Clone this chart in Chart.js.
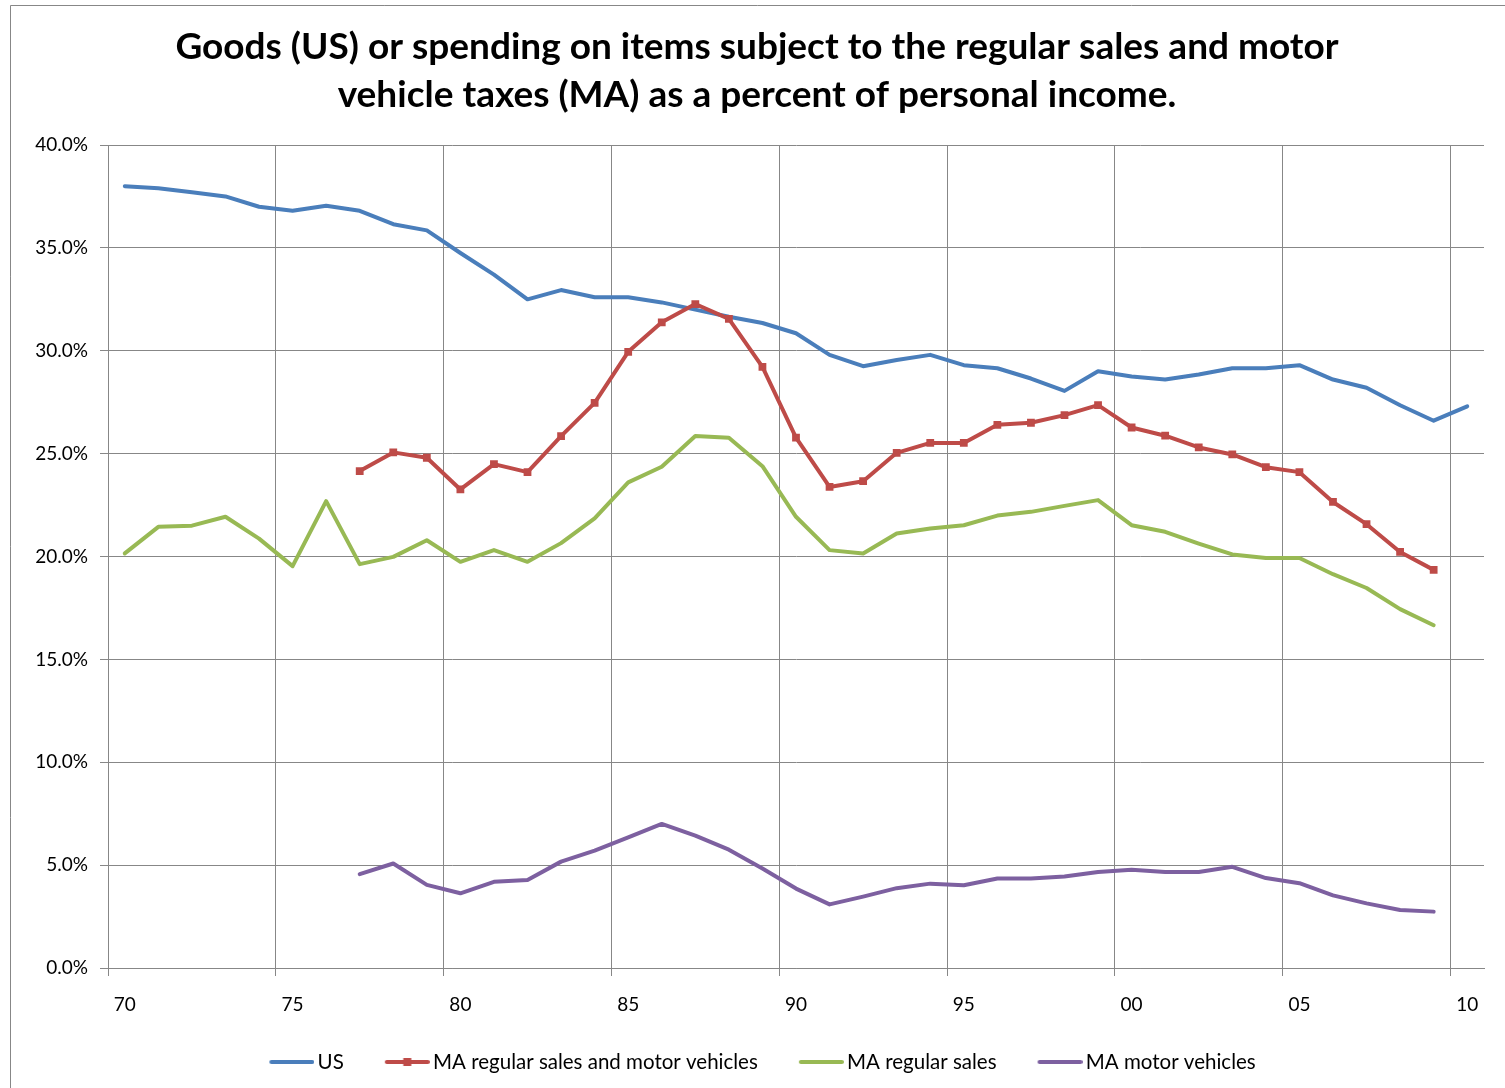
<!DOCTYPE html>
<html>
<head>
  <title>Goods and taxable spending as a percent of personal income</title>
  <script src="https://cdn.jsdelivr.net/npm/chart.js"></script>
  <style>
    html, body { margin: 0; padding: 0; background: #fff; }
    #wrap { width: 1505px; height: 1088px; position: relative; }
  </style>
</head>
<body>
  <div id="wrap"><canvas id="chart"></canvas></div>
  <script>
    // years 1970..2010, shown as two-digit labels
    const years = ['70','71','72','73','74','75','76','77','78','79',
                   '80','81','82','83','84','85','86','87','88','89',
                   '90','91','92','93','94','95','96','97','98','99',
                   '00','01','02','03','04','05','06','07','08','09','10'];

    const usGoods = [38.0, 37.9, 37.7, 37.5, 37.0, 36.8, 37.05, 36.8, 36.15, 35.85,
                     34.75, 33.7, 32.5, 32.95, 32.6, 32.6, 32.35, 32.0, 31.65, 31.35,
                     30.85, 29.8, 29.25, 29.55, 29.8, 29.3, 29.15, 28.65, 28.05, 29.0,
                     28.75, 28.6, 28.85, 29.15, 29.15, 29.3, 28.6, 28.2, 27.35, 26.6, 27.3];

    const maSalesAndMotor = [null, null, null, null, null, null, null, 24.15, 25.06, 24.8,
                             23.26, 24.49, 24.1, 25.85, 27.47, 29.95, 31.38, 32.27, 31.55, 29.22,
                             25.78, 23.38, 23.66, 25.04, 25.52, 25.52, 26.4, 26.5, 26.87, 27.36,
                             26.27, 25.87, 25.3, 24.96, 24.34, 24.1, 22.65, 21.57, 20.22, 19.35, null];

    const maRegularSales = [20.15, 21.44, 21.5, 21.93, 20.87, 19.53, 22.69, 19.63, 19.98, 20.79,
                            19.74, 20.31, 19.74, 20.65, 21.85, 23.6, 24.36, 25.86, 25.77, 24.39,
                            21.93, 20.31, 20.15, 21.12, 21.36, 21.52, 21.99, 22.17, 22.46, 22.74,
                            21.52, 21.2, 20.63, 20.1, 19.93, 19.93, 19.14, 18.47, 17.44, 16.66, null];

    const maMotorVehicles = [null, null, null, null, null, null, null, 4.56, 5.08, 4.04,
                             3.63, 4.19, 4.28, 5.17, 5.7, 6.35, 7.0, 6.43, 5.75, 4.84,
                             3.86, 3.09, 3.47, 3.88, 4.1, 4.02, 4.35, 4.35, 4.45, 4.67,
                             4.77, 4.67, 4.67, 4.92, 4.37, 4.12, 3.53, 3.14, 2.82, 2.74, null];

    const FONT = 'Lato, "Open Sans", sans-serif';
    const GRID = '#878787';

    // legend sample: blank on the left, line (and optional square) on the right,
    // so the gap between legend entries stays wide while the legend itself stays short
    const SAMPLE_BOX = 69;
    function legendSample(color, marker) {
      const c = document.createElement('canvas');
      c.width = SAMPLE_BOX + 14; c.height = 10;
      const g = c.getContext('2d');
      const x1 = c.width - 2, x0 = x1 - 41;
      g.strokeStyle = color;
      g.lineWidth = 4;
      g.lineCap = 'round';
      g.beginPath();
      g.moveTo(x0, 5); g.lineTo(x1, 5);
      g.stroke();
      if (marker) {
        g.fillStyle = color;
        g.fillRect((x0 + x1) / 2 - 4, 1, 8, 8);
      }
      return c;
    }

    // outer frame of the chart area (left and top edges visible),
    // and a nudge of title / legend to where the original centres them
    const framePlugin = {
      id: 'frame',
      afterLayout(chart) {
        chart.titleBlock.left += 15;
        chart.titleBlock.right += 15;
        chart.legend.left += 5;
        chart.legend.right += 5;
      },
      beforeDraw(chart) {
        const ctx = chart.ctx;
        ctx.save();
        ctx.strokeStyle = GRID;
        ctx.lineWidth = 1;
        ctx.beginPath();
        ctx.moveTo(10.5, 1088);
        ctx.lineTo(10.5, 5.5);
        ctx.lineTo(1505, 5.5);
        ctx.stroke();
        ctx.restore();
      }
    };

    const samples = [
      legendSample('#4A7EBB', false),
      legendSample('#BE4B48', true),
      legendSample('#98B954', false),
      legendSample('#7D60A0', false)
    ];

    new Chart(document.getElementById('chart'), {
      type: 'line',
      data: {
        labels: years,
        datasets: [
          { label: 'US', data: usGoods, borderColor: '#4A7EBB', backgroundColor: '#4A7EBB',
            pointRadius: 0, order: 1 },
          { label: 'MA regular sales and motor vehicles', data: maSalesAndMotor,
            borderColor: '#BE4B48', backgroundColor: '#BE4B48',
            pointStyle: 'rect', pointRadius: 5.5, pointBorderWidth: 0, order: 0 },
          { label: 'MA regular sales', data: maRegularSales, borderColor: '#98B954',
            backgroundColor: '#98B954', pointRadius: 0, order: 2 },
          { label: 'MA motor vehicles', data: maMotorVehicles, borderColor: '#7D60A0',
            backgroundColor: '#7D60A0', pointRadius: 0, order: 3 }
        ]
      },
      options: {
        responsive: true,
        maintainAspectRatio: false,
        animation: false,
        devicePixelRatio: 1,
        layout: { padding: { left: 0, right: 21, top: 0, bottom: 5.75 } },
        elements: {
          line: { borderWidth: 4, tension: 0, borderJoinStyle: 'round', borderCapStyle: 'round' }
        },
        plugins: {
          tooltip: { enabled: false },
          title: {
            display: true,
            text: ['Goods (US) or spending on items subject to the regular sales and motor',
                   'vehicle taxes (MA) as a percent of personal income.'],
            color: '#000',
            font: { family: FONT, size: 37, weight: 'bold', lineHeight: 48 / 37 },
            padding: { top: 23, bottom: 26 }
          },
          legend: {
            position: 'bottom',
            labels: {
              color: '#000',
              font: { family: FONT, size: 20.5 },
              usePointStyle: true,
              pointStyleWidth: SAMPLE_BOX,
              padding: 10,
              sort: (a, b) => a.datasetIndex - b.datasetIndex,
              generateLabels(chart) {
                return chart.data.datasets.map((ds, i) => ({
                  text: ds.label,
                  datasetIndex: i,
                  pointStyle: samples[i],
                  fillStyle: ds.borderColor,
                  strokeStyle: ds.borderColor,
                  fontColor: '#000',
                  lineWidth: 0,
                  hidden: false
                }));
              }
            }
          }
        },
        scales: {
          x: {
            type: 'category',
            offset: true,
            grid: {
              offset: true,
              drawOnChartArea: true,
              tickLength: 8,
              color: (ctx) => (ctx.index % 5 === 0 ? GRID : 'rgba(0,0,0,0)'),
              lineWidth: 1
            },
            border: { display: true, color: GRID },
            ticks: {
              autoSkip: false,
              maxRotation: 0,
              padding: 17,
              color: '#000',
              font: { family: FONT, size: 19 },
              callback: function (value, index) {
                return index % 5 === 0 ? this.getLabelForValue(value) : '';
              }
            },
            afterFit(scale) { scale.height = 73.75; }
          },
          y: {
            min: 0,
            max: 40,
            grid: { color: GRID, tickLength: 8, lineWidth: 1 },
            border: { display: true, color: GRID },
            ticks: {
              stepSize: 5,
              padding: 12,
              color: '#000',
              font: { family: FONT, size: 19 },
              callback: (v) => v.toFixed(1) + '%'
            },
            afterFit(scale) { scale.width = 108; }
          }
        }
      },
      plugins: [framePlugin]
    });
  </script>
</body>
</html>
